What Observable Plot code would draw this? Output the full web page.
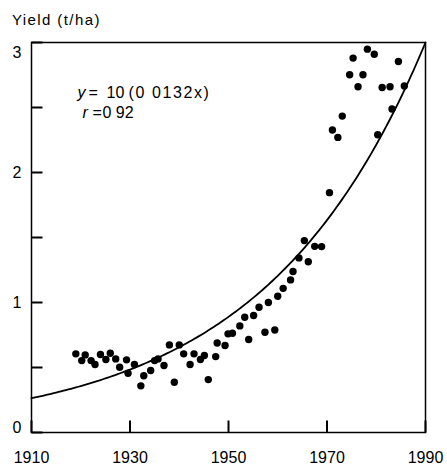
<!DOCTYPE html>
<html><head><meta charset="utf-8">
<script src="https://cdn.jsdelivr.net/npm/d3@7"></script>
<script src="https://cdn.jsdelivr.net/npm/@observablehq/plot@0.6"></script>
<style>
body{margin:0;background:#fff;font-family:"Liberation Sans",Arial,sans-serif;}
#title{height:32px;box-sizing:border-box;padding:11px 0 0 12px;font-size:15px;line-height:17px;letter-spacing:1.4px;color:#000;}
</style></head><body>
<div id="title">Yield (t/ha)</div>
<div id="chart"></div>
<script>
const years = [1919.0,1920.2,1920.9,1922.1,1922.9,1924.0,1925.1,1926.0,1927.1,1927.9,
  1929.3,1929.6,1930.9,1932.2,1932.8,1934.2,1935.0,1935.7,1936.9,1938.0,
  1939.0,1940.0,1940.9,1942.2,1943.0,1944.3,1945.1,1945.9,1947.4,1947.7,
  1949.3,1949.9,1950.8,1952.3,1953.3,1954.1,1955.1,1956.2,1957.4,1958.1,
  1959.4,1960.0,1961.1,1962.6,1963.1,1964.3,1965.4,1966.2,1967.5,1968.9,
  1970.5,1971.1,1972.2,1973.1,1974.6,1975.3,1976.3,1977.3,1978.2,1979.6,
  1980.3,1981.2,1982.8,1983.2,1984.5,1985.7];
const yields = [0.605,0.553,0.597,0.553,0.523,0.60,0.561,0.61,0.566,0.502,
  0.559,0.456,0.523,0.359,0.436,0.477,0.553,0.566,0.515,0.674,
  0.387,0.674,0.605,0.523,0.605,0.561,0.592,0.407,0.584,0.689,
  0.669,0.759,0.763,0.82,0.886,0.715,0.90,0.963,0.771,1.00,
  0.789,1.048,1.109,1.174,1.238,1.343,1.476,1.314,1.432,1.43,
  1.845,2.327,2.27,2.434,2.752,2.88,2.66,2.752,2.949,2.91,
  2.29,2.654,2.66,2.488,2.854,2.665];
const xTicks = [1910,1930,1950,1970,1990];
const yTicks = [0,0.5,1,1.5,2,2.5,3];
const yLabelsMid = [1,2];
const yLabelTop = [3];
const yLabelBottom = [0];
// fitted curve as printed: y = 10^(0.0132x), scaled so it meets 3 t/ha at 1990
const fitRate = 0.0132;
const fitEndYear = 1990;
const fitEndValue = 3;
const fitStart = 1910;
const eqParts = ["=", "10", "(0 0132x)"];
const rParts = ["=", "0 92"];

const points = years.map((x, i) => ({x, y: yields[i]}));
const fitYears = d3.range(fitStart, fitEndYear + 0.001, 0.5);
const fit = fitYears.map(x => ({x, y: fitEndValue * Math.pow(10, fitRate * (x - fitEndYear))}));

const W = 447, H = 437, mT = 10, mB = 37, mL = 31, mR = 22;
const innerW = W - mL - mR, innerH = H - mT - mB;
const xDom = [1910, 1990], yDom = [0, 3];
// inward tick lengths in pixels, converted through the scale extents
const tickLenX = 12, tickLenY = 11;
const yTickSpan = tickLenX / innerH * (yDom[1] - yDom[0]);
const xTickSpan = tickLenY / innerW * (xDom[1] - xDom[0]);
const fs = 16;
const fmt = d => String(d);
const txt = (s, dx, dy, extra = {}) => Plot.text([s], {frameAnchor: "top-left", dx, dy, textAnchor: "start", lineAnchor: "middle", fontSize: fs, ...extra});
const plot = Plot.plot({
  width: W,
  height: H,
  marginTop: mT,
  marginBottom: mB,
  marginLeft: mL,
  marginRight: mR,
  style: {fontFamily: '"Liberation Sans", Arial, sans-serif', fontSize: "16px", color: "#000", background: "#fff"},
  x: {domain: xDom},
  y: {domain: yDom},
  marks: [
    Plot.frame({stroke: "#000", strokeWidth: 1.5}),
    Plot.link(xTicks, {x1: d => d, x2: d => d, y1: () => yDom[0], y2: () => yDom[0] + yTickSpan, stroke: "#000", strokeWidth: 2}),
    Plot.link(yTicks, {y1: d => d, y2: d => d, x1: () => xDom[0], x2: () => xDom[0] + xTickSpan, stroke: "#000", strokeWidth: 2}),
    Plot.axisX(xTicks, {tickSize: 0, tickPadding: 19, tickFormat: fmt, label: null}),
    Plot.axisY(yLabelsMid, {tickSize: 0, tickPadding: 10, tickFormat: fmt, label: null}),
    Plot.axisY(yLabelTop, {tickSize: 0, tickPadding: 10, dy: 10, tickFormat: fmt, label: null}),
    Plot.axisY(yLabelBottom, {tickSize: 0, tickPadding: 10, dy: -5, tickFormat: fmt, label: null}),
    Plot.line(fit, {x: "x", y: "y", stroke: "#000", strokeWidth: 1.8}),
    Plot.dot(points, {x: "x", y: "y", r: 3.7, fill: "#000", stroke: "none"}),
    txt("y", 46, 50, {fontStyle: "italic"}),
    txt(eqParts[0], 57, 50),
    txt(eqParts[1], 75, 50),
    txt(eqParts[2], 97, 50),
    txt("r", 51, 70, {fontStyle: "italic"}),
    txt(rParts[0], 61, 70),
    txt(rParts[1], 71, 70)
  ]
});
d3.select(plot).selectAll("text").filter(function() { return this.textContent === eqParts[2]; }).attr("letter-spacing", "1.6px");
document.getElementById("chart").appendChild(plot);
</script>
</body></html>
